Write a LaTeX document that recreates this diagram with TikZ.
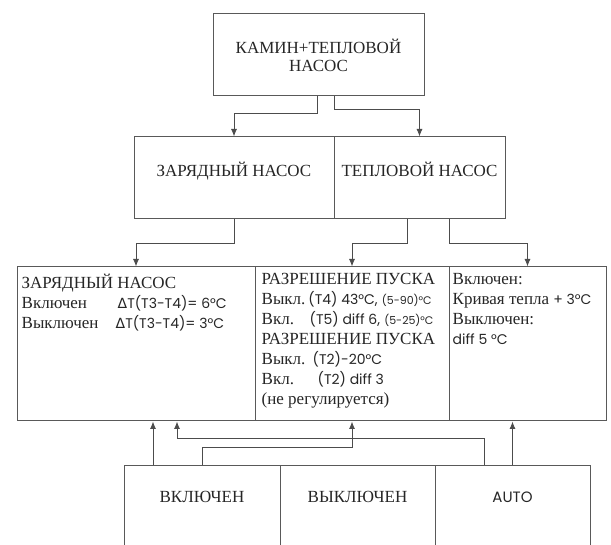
\documentclass[tikz,border=0pt]{standalone}
\usepackage{fontspec}
\setmainfont{Liberation Serif}
\newfontfamily\geofont{Poppins}
\newfontfamily\symbfont{DejaVu Sans}
\usetikzlibrary{arrows.meta,positioning,calc}
\newcommand{\gs}[1]{{\geofont\fontsize{14}{20}\selectfont #1}}
\newcommand{\gsm}[1]{{\geofont\fontsize{11}{20}\selectfont #1}}
\newcommand{\dT}{{\symbfont\fontsize{14}{20}\selectfont Δ}}

\begin{document}
\begin{tikzpicture}[
    x=1pt, y=-1pt,
    font=\fontsize{17}{20}\selectfont,
    box/.style={rectangle, draw=black!65, line width=1pt, inner sep=0pt, align=center, text=black!85},
    panel/.style={rectangle, draw=black!65, line width=1pt, inner sep=0pt, minimum height=154pt},
    paneltext/.style={anchor=north west, align=left, inner sep=0pt, text=black!85, execute at begin node=\strut},
    arrow/.style={-{Latex[length=7.5pt,width=6pt]}, draw=black!70, line width=0.9pt}
]
    \useasboundingbox[fill=white] (0,0) rectangle (611,545);
    \clip (0,0) rectangle (611,545);

    % --- top levels ---
    \node[box, minimum width=211pt, minimum height=82pt, font=\fontsize{17}{18}\selectfont] (plant) at (318.5,55) {КАМИН+ТЕПЛОВОЙ\\НАСОС};
    \node[box, minimum width=200pt, minimum height=82pt, text height=10pt, text depth=12pt] (charge) at (234,178) {ЗАРЯДНЫЙ НАСОС};
    \node[box, minimum width=171pt, minimum height=82pt, text height=10pt, text depth=12pt] (heat) at (419.5,178) {ТЕПЛОВОЙ НАСОС};

    % --- settings panels ---
    \node[panel, minimum width=238pt] (chgpanel) at (136,344) {};
    \node[panel, minimum width=194pt] (midpanel) at (352,344) {};
    \node[panel, minimum width=157pt] (autopanel) at (527.5,344) {};

    \node[paneltext] (chgtext) at ($(chgpanel.north west)+(5,7)$) {ЗАРЯДНЫЙ НАСОС\\
        \makebox[96pt][l]{Включен}\dT\gs{T(T3-T4)= 6°C}\\
        \makebox[94pt][l]{Выключен}\dT\gs{T(T3-T4)= 3°C}};
    \node[paneltext] (midtext) at ($(midpanel.north west)+(7,7)$) {РАЗРЕШЕНИЕ ПУСКА\\
        Выкл.\hspace{3pt}\gs{(T4) 43°C,} \gsm{(5-90)°C}\\
        \makebox[48pt][l]{Вкл.}\gs{(T5) diff 6,} \gsm{(5-25)°C}\\
        РАЗРЕШЕНИЕ ПУСКА\\
        \makebox[51pt][l]{Выкл.}\gs{(T2)-20°C}\\
        \makebox[56pt][l]{Вкл.}\gs{(T2) diff 3}\\
        (не регулируется)};
    \node[paneltext] (autotext) at ($(autopanel.north west)+(4,7)$) {Включен:\\
        Кривая тепла \gs{+ 3°C}\\
        Выключен:\\
        \gs{diff 5 °C}};

    % --- mode switches (cut off at the bottom) ---
    \node[box, minimum width=156pt, minimum height=96pt, text height=10pt, text depth=32pt] (on) at (202,514) {ВКЛЮЧЕН};
    \node[box, minimum width=155pt, minimum height=96pt, text height=10pt, text depth=32pt] (off) at (357.5,514) {ВЫКЛЮЧЕН};
    \node[box, minimum width=155pt, minimum height=96pt, text height=10pt, text depth=32pt, font=\geofont\fontsize{15}{20}\selectfont] (auto) at (512.5,514) {AUTO};

    % --- connections ---
    \draw[arrow] ([xshift=-1.5pt]plant.south) -- ++(0,17) -| (charge.north);
    \draw[arrow] ([xshift=15.5pt]plant.south) -- ++(0,13) -| (heat.north);
    \draw[arrow] (charge.south) -- ++(0,24) -| (chgpanel.north);
    \draw[arrow] ([xshift=-12.5pt]heat.south) -- ++(0,24) -| (midpanel.north);
    \draw[arrow] ([xshift=29.5pt]heat.south) -- ++(0,24) -| (autopanel.north);

    \draw[arrow] ([xshift=-49pt]on.north) -- ([xshift=17pt]chgpanel.south);
    \draw[arrow] (on.north) -- ++(0,-18) -| (midpanel.south);
    \draw[arrow] ([xshift=-28.5pt]auto.north) -- ++(0,-27) -| ([xshift=41pt]chgpanel.south);
    \draw[arrow] (auto.north) -- (auto.north |- autopanel.south);

\end{tikzpicture}
\end{document}
